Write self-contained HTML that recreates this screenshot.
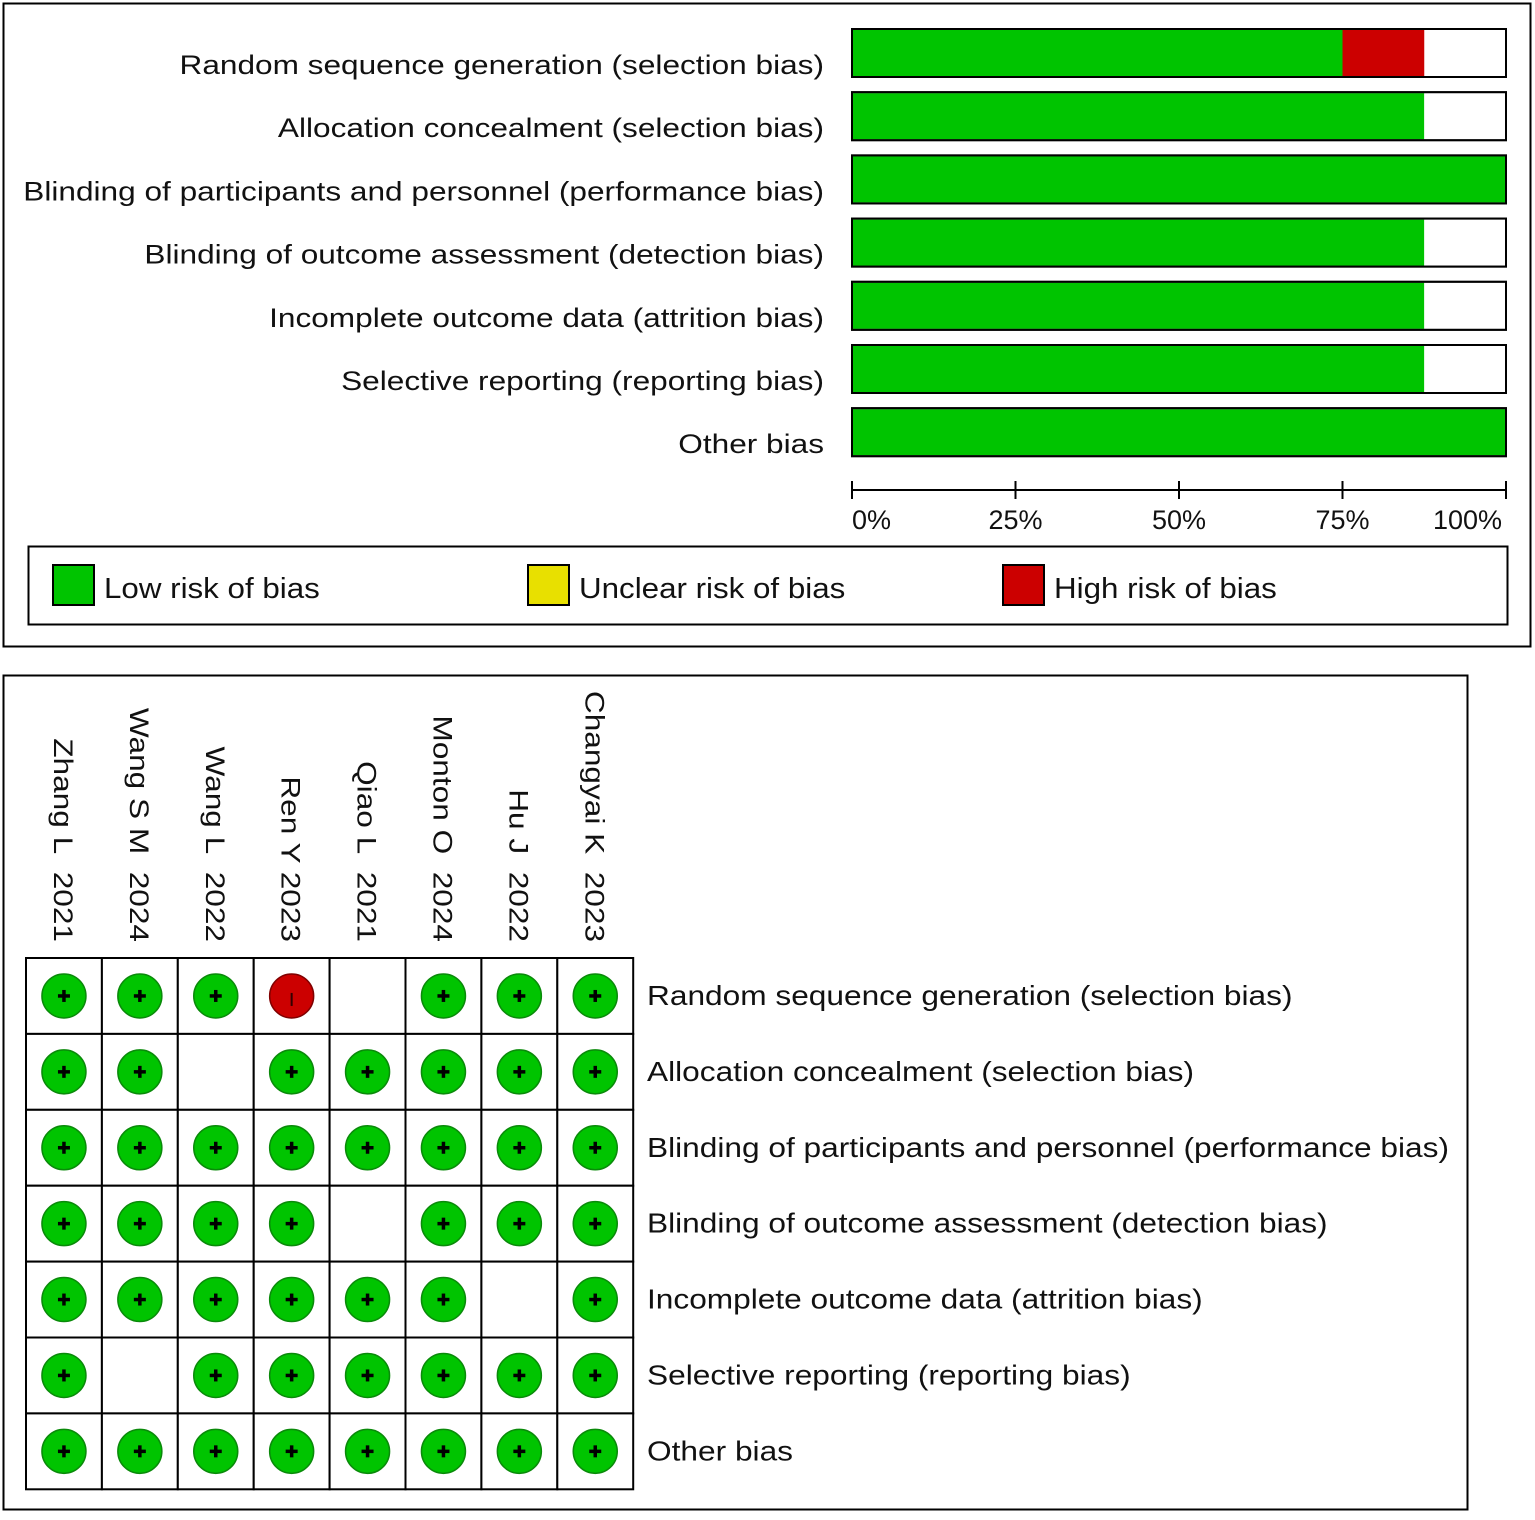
<!DOCTYPE html>
<html><head><meta charset="utf-8"><style>
html,body{margin:0;padding:0;background:#fff;}
svg text{font-family:"Liberation Sans",Arial,sans-serif;fill:#111;}
</style></head><body>
<svg id="chart" width="1535" height="1515" viewBox="0 0 1535 1515" xmlns="http://www.w3.org/2000/svg">
<rect x="3.5" y="3.5" width="1527" height="643" fill="#fff" stroke="#000" stroke-width="2"/>
<rect x="3.5" y="675.5" width="1464" height="834" fill="#fff" stroke="#000" stroke-width="2"/>
<rect x="28.5" y="546.5" width="1479" height="78" fill="#fff" stroke="#000" stroke-width="2"/>
<g id="bars"></g><g id="axis"></g><g id="legend"></g><g id="grid"></g>
</svg>
<script>
const domains = ["Random sequence generation (selection bias)","Allocation concealment (selection bias)","Blinding of participants and personnel (performance bias)","Blinding of outcome assessment (detection bias)","Incomplete outcome data (attrition bias)","Selective reporting (reporting bias)","Other bias"];
const lowPct = [75, 87.5, 100, 87.5, 87.5, 87.5, 100];
const unclearPct = [12.5, 12.5, 0, 12.5, 12.5, 12.5, 0];
const highPct = [12.5, 0, 0, 0, 0, 0, 0];
const ticks = [0, 25, 50, 75, 100];
const tickLabels = ["0%","25%","50%","75%","100%"];
const studies = ["Zhang L\u00a0\u00a02021","Wang S M\u00a0\u00a02024","Wang L\u00a0\u00a02022","Ren Y 2023","Qiao L\u00a0\u00a02021","Monton O\u00a0\u00a02024","Hu J\u00a0\u00a02022","Changyai K\u00a0\u00a02023"];
const judgments = [
 ["L","L","L","H","U","L","L","L"],
 ["L","L","U","L","L","L","L","L"],
 ["L","L","L","L","L","L","L","L"],
 ["L","L","L","L","U","L","L","L"],
 ["L","L","L","L","L","L","U","L"],
 ["L","U","L","L","L","L","L","L"],
 ["L","L","L","L","L","L","L","L"]
];
const NS="http://www.w3.org/2000/svg";
function mk(tag,attrs,parent,txt){const e=document.createElementNS(NS,tag);for(const k in attrs)e.setAttribute(k,attrs[k]);if(txt!==undefined)e.textContent=txt;parent.appendChild(e);return e;}
function stretch(t,f){const w=t.getComputedTextLength();t.setAttribute('textLength',(w*f).toFixed(1));t.setAttribute('lengthAdjust','spacingAndGlyphs');}
const GREEN="#00c400", RED="#cc0000", YEL="#e8e000";
const x0=852,x1=1506; const xs=p=>x0+(x1-x0)*p/100;
const rowY=i=>29+i*63.2; const bh=48;
const bars=document.getElementById('bars');
domains.forEach((d,i)=>{
  const y=rowY(i);
  const t=mk('text',{x:824,y:y+45,'text-anchor':'end','font-size':27},bars,d);
  
  
  stretch(t,1.17);
  const bg=mk('rect',{x:x0,y:y,width:x1-x0,height:bh,fill:'#fff',stroke:'#000','stroke-width':2},bars);
  
  
  const g=mk('rect',{x:xs(0),y:y+1,width:xs(lowPct[i])-xs(0),height:bh-2,fill:GREEN},bars);
  
  
  const u=mk('rect',{x:xs(lowPct[i]),y:y+1,width:xs(lowPct[i]+unclearPct[i])-xs(lowPct[i]),height:bh-2,fill:'#fff'},bars);
  
  
  const rx=xs(lowPct[i]);
  const h=mk('rect',{x:rx,y:y+1,width:xs(lowPct[i]+highPct[i])-rx,height:bh-2,fill:RED},bars);
  
  
  mk('rect',{x:x0,y:y,width:x1-x0,height:bh,fill:'none',stroke:'#000','stroke-width':2},bars);
});
const ax=document.getElementById('axis');
const al=mk('line',{x1:x0,y1:490,x2:x1,y2:490,stroke:'#000','stroke-width':2},ax);


ticks.forEach((v,i)=>{
  mk('line',{x1:xs(v),y1:481,x2:xs(v),y2:499,stroke:'#000','stroke-width':2},ax);
  const anc=i===0?'start':(i===ticks.length-1?'end':'middle');
  const t=mk('text',{x:xs(v)+(i===ticks.length-1?-4:0),y:529,'text-anchor':anc,'font-size':27},ax,tickLabels[i]);
  
  
});
const lg=document.getElementById('legend');
[["Low risk of bias",GREEN,53],["Unclear risk of bias",YEL,528],["High risk of bias",RED,1003]].forEach(e=>{
  const r=mk('rect',{x:e[2],y:565,width:41,height:40,fill:e[1],stroke:'#000','stroke-width':2},lg);
  
  
  const t=mk('text',{x:e[2]+51,y:598,'font-size':29},lg,e[0]);
  
  
  stretch(t,1.08);
});
const gr=document.getElementById('grid');
const gx0=26, cw=75.9, gy0=958, rh=75.9;
studies.forEach((s,j)=>{
  const cx=gx0+cw*(j+0.5);
  const t=mk('text',{x:0,y:0,'text-anchor':'end','font-size':27,transform:`translate(${cx-10},942) rotate(90)`},gr,s);
  
  
  stretch(t,1.17);
});
domains.forEach((d,i)=>{
  const cy=gy0+rh*(i+0.5);
  judgments[i].forEach((v,j)=>{
    const cx=gx0+cw*(j+0.5);
    const c=mk('rect',{x:gx0+cw*j,y:gy0+rh*i,width:cw,height:rh,fill:'#fff',stroke:'#000','stroke-width':2},gr);
    
    
    if(v==='U')return;
    const circ=mk('circle',{cx:cx,cy:cy,r:22,fill:v==='L'?GREEN:RED,stroke:v==='L'?'#0a8a0a':'#800000','stroke-width':1.5},gr);
    
    
    if(v==='L'){
      mk('line',{x1:cx-6,y1:cy,x2:cx+6,y2:cy,stroke:'#000','stroke-width':3.5},gr);
      mk('line',{x1:cx,y1:cy-6,x2:cx,y2:cy+6,stroke:'#000','stroke-width':3.5},gr);
    } else {
      mk('line',{x1:cx,y1:cy-3,x2:cx,y2:cy+10,stroke:'#300','stroke-width':2},gr);
    }
  });
  const t=mk('text',{x:647,y:cy+9,'font-size':28},gr,d);
  
  
  stretch(t,1.13);
});
</script>
</body></html>
